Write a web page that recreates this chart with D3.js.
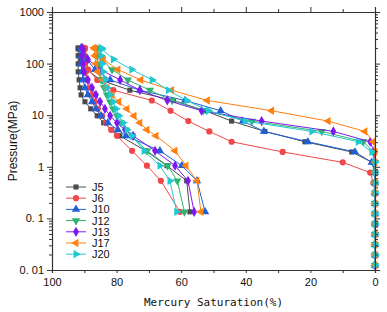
<!DOCTYPE html>
<html>
<head>
<meta charset="utf-8">
<script src="https://cdn.jsdelivr.net/npm/d3@7"></script>
<style>
  body { margin: 0; background: #fff; }
  svg { display: block; font-family: "Liberation Sans", Arial, sans-serif; }
</style>
</head>
<body>
<div id="chart"></div>
<script>
/* pressure steps (MPa) */
const injPressure = [0.0123, 0.0195, 0.031, 0.049, 0.078, 0.123, 0.194, 0.308, 0.488, 0.772,
  1.22, 1.94, 3.06, 4.85, 7.69, 12.2, 19.3, 30.5, 48.3, 76.5, 121, 192];
const wdPressure = [202, 142, 99, 69.4, 48.5, 34, 24.8, 18.2, 13.3, 9.73, 7.12, 5.21, 3.99, 2.04, 1.05, 0.535, 0.134];

const seriesNames = ["J5", "J6", "J10", "J12", "J13", "J17", "J20"];

/* mercury saturation (%) on intrusion */
const injJ5  = [0, 0, 0, 0, 0, 0, 0, 0, 0, 0, 0.9, 7.2, 21.7, 34.1, 44.4, 52.6, 62.4, 75.9, 85.1, 89.2, 91.0, 91.9];
const injJ6  = [0, 0, 0, 0, 0, 0, 0, 0, 0.5, 1.5, 10.0, 28.6, 44.4, 51.3, 57.8, 63.3, 69.1, 81.0, 86.0, 88.8, 89.5, 89.8];
const injJ10 = [0, 0, 0, 0, 0, 0, 0, 0, 0, 0, 1.0, 6.2, 20.8, 34.4, 40.9, 47.8, 58.8, 72.8, 82.0, 86.7, 89.2, 90.7];
const injJ12 = [0, 0, 0, 0, 0, 0, 0, 0, 0, 0, 0, 0.5, 3.6, 16.5, 38.1, 53.2, 62.8, 69.7, 76.5, 81.4, 84.5, 86.1];
const injJ13 = [0, 0, 0, 0, 0, 0, 0, 0, 0, 0, 0, 0.3, 1.5, 12.9, 35.1, 53.7, 64.3, 72.8, 78.9, 85.1, 88.9, 90.4];
const injJ17 = [0, 0, 0, 0, 0, 0, 0, 0, 0, 0, 0, 0, 0.5, 3.1, 14.5, 32.0, 51.9, 63.0, 72.5, 79.6, 84.2, 86.7];
const injJ20 = [0, 0, 0, 0, 0, 0, 0, 0, 0, 0, 0, 1.0, 5.2, 19.6, 40.2, 51.6, 58.3, 64.0, 69.0, 75.3, 81.0, 84.5];

/* mercury saturation (%) on withdrawal */
const wdJ5  = [91.9, 91.9, 91.9, 91.9, 91.6, 91.3, 91.0, 89.8, 88.0, 86.0, 84.0, 81.5, 79.0, 71.0, 64.4, 58.3, 57.3];
const wdJ6  = [89.8, 89.8, 89.8, 89.5, 89.2, 88.5, 87.6, 86.7, 85.8, 84.5, 83.3, 81.7, 79.9, 75.2, 70.6, 66.3, 60.4];
const wdJ10 = [91.0, 91.0, 91.0, 90.7, 90.4, 89.8, 88.9, 87.6, 86.4, 84.8, 82.7, 79.6, 77.1, 66.6, 59.8, 55.1, 52.6];
const wdJ12 = [86.1, 86.1, 85.8, 85.4, 84.8, 83.9, 83.0, 82.0, 81.1, 79.9, 78.6, 77.1, 75.2, 70.6, 64.2, 61.2, 59.0];
const wdJ13 = [90.7, 90.7, 90.4, 90.1, 88.9, 87.6, 86.4, 85.1, 83.6, 82.0, 79.9, 77.4, 74.9, 68.1, 61.9, 57.9, 56.0];
const wdJ17 = [87.0, 86.7, 86.4, 85.8, 84.2, 83.0, 81.4, 79.3, 76.8, 74.6, 72.8, 70.6, 67.8, 61.9, 58.5, 55.1, 53.9];
const wdJ20 = [84.8, 84.8, 84.5, 84.2, 83.6, 83.0, 82.0, 81.1, 80.2, 79.3, 78.0, 76.8, 75.2, 71.5, 66.6, 63.5, 61.4];

const yTickValues = [0.01, 0.1, 1, 10, 100, 1000];
const yTickLabels = ["0. 01", "0. 1", "1", "10", "100", "1000"];
const xTickValues = [100, 80, 60, 40, 20, 0];

const injData = [injJ5, injJ6, injJ10, injJ12, injJ13, injJ17, injJ20];
const wdData = [wdJ5, wdJ6, wdJ10, wdJ12, wdJ13, wdJ17, wdJ20];

const colors = ["#4a4a4a", "#f0474a", "#1f5fd8", "#2fb36e", "#7f18f0", "#ff8010", "#20c8d0"];
const shapes = [
  { type: d3.symbolSquare, rot: 0, size: 26 },
  { type: d3.symbolCircle, rot: 0, size: 30 },
  { type: d3.symbolTriangle, rot: 0, size: 30 },
  { type: d3.symbolTriangle, rot: 180, size: 30 },
  { type: d3.symbolDiamond, rot: 0, size: 30 },
  { type: d3.symbolTriangle, rot: -90, size: 30 },
  { type: d3.symbolTriangle, rot: 90, size: 30 }
];

const width = 387, height = 312;
const margin = { top: 12, right: 12, bottom: 42, left: 52 };

const svg = d3.select("#chart")
  .append("svg")
  .attr("width", width)
  .attr("height", height);

const x = d3.scaleLinear().domain([100, 0]).range([margin.left, width - margin.right]);
const y = d3.scaleLog().domain([0.01, 1000]).range([height - margin.bottom, margin.top]);

/* build the point list of each curve: intrusion then withdrawal */
const series = seriesNames.map((name, i) => {
  const pts = injPressure.map((p, j) => ({ p: p, s: injData[i][j] }))
    .concat(wdPressure.map((p, j) => ({ p: p, s: wdData[i][j] })));
  return { name: name, color: colors[i], shape: shapes[i], points: pts };
});

const line = d3.line().x(d => x(d.s)).y(d => y(d.p));

const plot = svg.append("g");

series.forEach(sr => {
  plot.append("path")
    .datum(sr.points)
    .attr("d", line)
    .attr("fill", "none")
    .attr("stroke", sr.color)
    .attr("stroke-width", 1);

  plot.selectAll(null)
    .data(sr.points)
    .join("path")
    .attr("d", d3.symbol().type(sr.shape.type).size(sr.shape.size))
    .attr("transform", d => `translate(${x(d.s)},${y(d.p)}) rotate(${sr.shape.rot})`)
    .attr("fill", sr.color);
});

/* axes */
const minorY = y.ticks().filter(v => yTickValues.indexOf(v) < 0);
const minorX = d3.range(90, 0, -20);
const axisColor = "#333";

function styleAxis(sel) {
  sel.selectAll(".domain").attr("stroke", axisColor).attr("stroke-width", 1.2);
  sel.selectAll(".tick line").attr("stroke", axisColor);
  sel.selectAll("text").attr("fill", "#111").style("font-size", "11px")
    .style("font-family", "'Liberation Sans', Arial, sans-serif");
}

const labelOf = v => yTickLabels[yTickValues.indexOf(v)];

const axisL = svg.append("g").attr("transform", `translate(${margin.left},0)`)
  .call(d3.axisLeft(y).tickValues(yTickValues).tickFormat(labelOf).tickSize(5).tickPadding(3));
axisL.call(styleAxis);
svg.append("g").attr("transform", `translate(${margin.left},0)`)
  .call(d3.axisLeft(y).tickValues(minorY).tickFormat("").tickSize(3))
  .call(s => s.select(".domain").remove()).call(styleAxis);

const axisR = svg.append("g").attr("transform", `translate(${width - margin.right},0)`)
  .call(d3.axisRight(y).tickValues(yTickValues).tickFormat("").tickSize(5));
axisR.call(styleAxis);
svg.append("g").attr("transform", `translate(${width - margin.right},0)`)
  .call(d3.axisRight(y).tickValues(minorY).tickFormat("").tickSize(3))
  .call(s => s.select(".domain").remove()).call(styleAxis);

const axisB = svg.append("g").attr("transform", `translate(0,${height - margin.bottom})`)
  .call(d3.axisBottom(x).tickValues(xTickValues).tickFormat(d3.format("d")).tickSize(3).tickPadding(5));
axisB.call(styleAxis);
svg.append("g").attr("transform", `translate(0,${height - margin.bottom})`)
  .call(d3.axisBottom(x).tickValues(minorX).tickFormat("").tickSize(3))
  .call(s => s.select(".domain").remove()).call(styleAxis);

const axisT = svg.append("g").attr("transform", `translate(0,${margin.top})`)
  .call(d3.axisTop(x).tickValues(xTickValues).tickFormat("").tickSize(5));
axisT.call(styleAxis);
svg.append("g").attr("transform", `translate(0,${margin.top})`)
  .call(d3.axisTop(x).tickValues(minorX).tickFormat("").tickSize(3))
  .call(s => s.select(".domain").remove()).call(styleAxis);

/* axis titles */
svg.append("text")
  .attr("x", (margin.left + width - margin.right) / 2)
  .attr("y", 306)
  .attr("text-anchor", "middle")
  .style("font-family", "'DejaVu Sans Mono', monospace")
  .style("font-size", "11px")
  .attr("fill", "#111")
  .text("Mercury Saturation(%)");

svg.append("text")
  .attr("transform", `translate(17,${(margin.top + height - margin.bottom) / 2}) rotate(-90)`)
  .attr("text-anchor", "middle")
  .style("font-size", "12px")
  .attr("fill", "#111")
  .text("Pressure(MPa)");

/* legend */
const legend = svg.append("g").attr("transform", "translate(66,187)");
series.forEach((sr, i) => {
  const row = legend.append("g").attr("transform", `translate(0,${i * 11.2})`);
  row.append("line").attr("x1", 0).attr("x2", 20).attr("stroke", sr.color).attr("stroke-width", 1);
  row.append("path")
    .attr("d", d3.symbol().type(sr.shape.type).size(sr.shape.size))
    .attr("transform", `translate(10,0) rotate(${sr.shape.rot})`)
    .attr("fill", sr.color);
  row.append("text")
    .attr("x", 26).attr("y", 4)
    .style("font-size", "11px")
    .attr("fill", "#111")
    .text(sr.name);
});
</script>
</body>
</html>
